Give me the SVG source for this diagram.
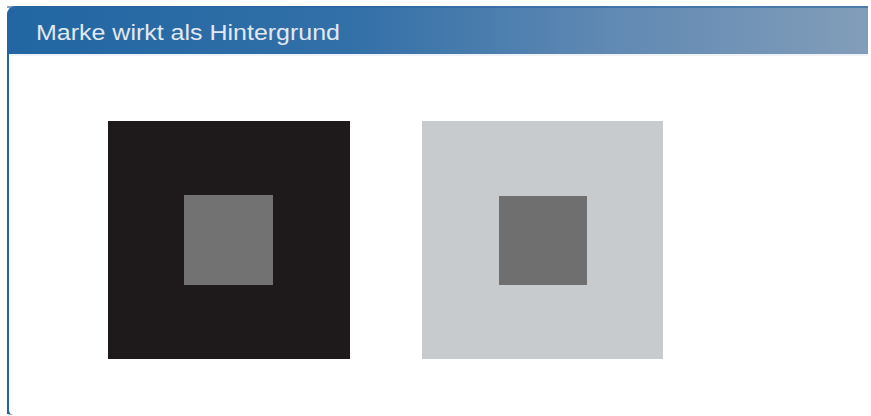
<svg xmlns="http://www.w3.org/2000/svg" width="871" height="416" viewBox="0 0 871 416">
<defs>
<linearGradient id="hdr" x1="0" y1="0" x2="1" y2="0">
<stop offset="0" stop-color="#2166a2"/>
<stop offset="0.4" stop-color="#3270a8"/>
<stop offset="0.7" stop-color="#6089b3"/>
<stop offset="1" stop-color="#829db9"/>
</linearGradient>
<style>
.title{font-family:"Liberation Sans",Arial,sans-serif;font-size:22px;fill:#e2e8f1;}
</style>
</defs>
<rect width="871" height="416" fill="#ffffff"/>
<g id="frame">
<path d="M7,414 L7,16 Q7,6 17,6 L868,6 L868,54 L9,54 L9,410 Q9,414 13,415 Z" fill="#2166a2"/>
<path d="M17,6 L868,6 L868,54 L7,54 L7,16 Q7,6 17,6 Z" fill="url(#hdr)"/>
<rect x="7" y="6" width="861" height="2" fill="#2a66a0" opacity="0.6"/>
<line x1="9" y1="55" x2="868" y2="55" stroke="#dfe6ef" stroke-width="1"/>
<text class="title" x="36" y="40" textLength="304" lengthAdjust="spacingAndGlyphs">Marke wirkt als Hintergrund</text>
</g>
<g id="dark-square">
<rect x="108" y="121" width="242" height="238" fill="#1e1a1b"/>
<rect x="184" y="195" width="89" height="90" fill="#737272"/>
</g>
<g id="light-square">
<rect x="422" y="121" width="241" height="238" fill="#c8cbce"/>
<rect x="499" y="196" width="88" height="89" fill="#706f6f"/>
</g>
<g id="connectors"/>
</svg>
